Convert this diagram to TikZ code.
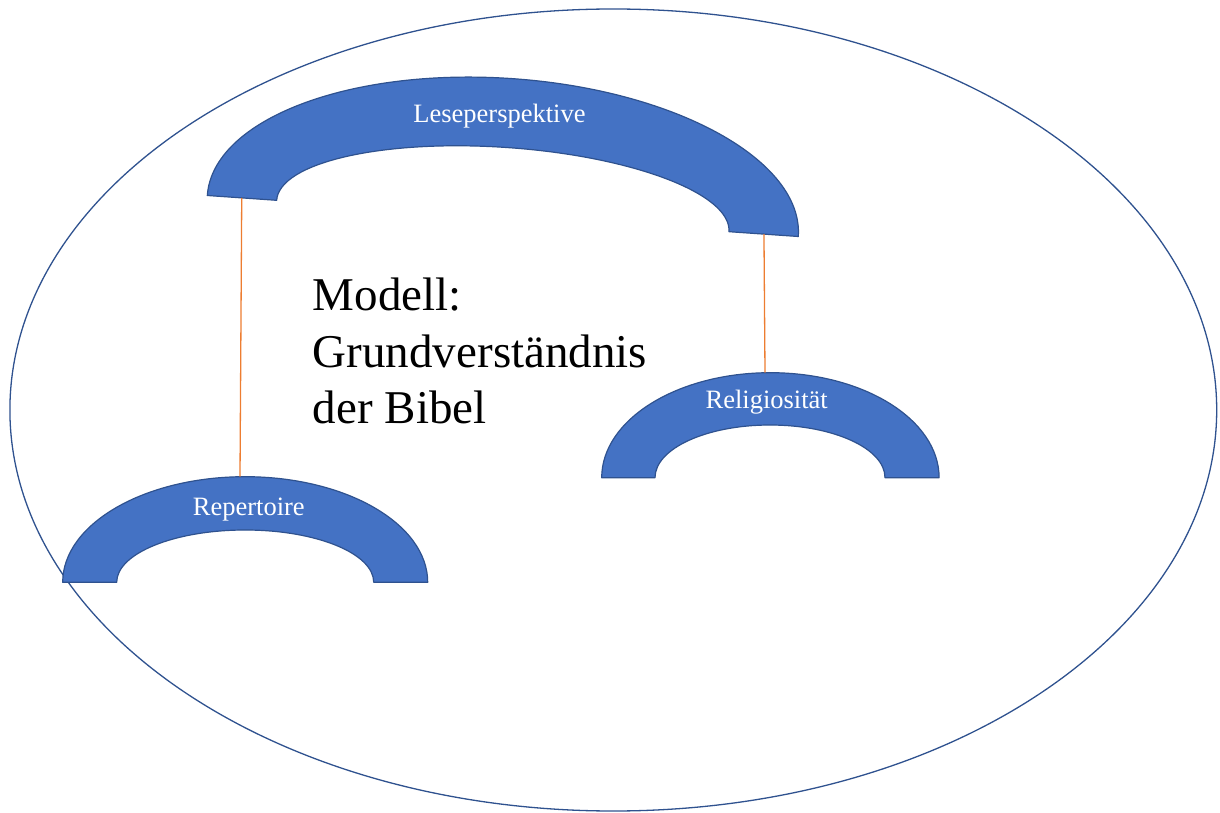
\documentclass[tikz,border=0pt]{standalone}
\usepackage{fontspec}
\setmainfont{Liberation Serif}
\definecolor{arcfill}{HTML}{4472C4}
\definecolor{arcline}{HTML}{2F528F}
\definecolor{conncol}{HTML}{ED7D31}
\tikzset{
  arcbox/.style={fill=arcfill, draw=arcline, line width=1.2pt, line join=round},
  arclabel/.style={text=white, font=\fontsize{26.5}{30}\selectfont, inner sep=0pt, anchor=base},
  conn/.style={draw=conncol, line width=1.3pt},
  frame/.style={draw=arcline, line width=1.3pt}
}
\begin{document}
\begin{tikzpicture}[x=1pt,y=1pt]
\useasboundingbox (0,0) rectangle (1220,812);
% outer ellipse
\draw[frame] (613.3,402) ellipse [x radius=603.4pt, y radius=401pt];

% Leseperspektive (rotated block arc)
\begin{scope}[shift={(502.8,596)}, rotate=-3.97]
  \draw[arcbox] (-296.2,0) arc[start angle=180, end angle=0, x radius=296.2pt, y radius=137.7pt]
    -- (226.7,0) arc[start angle=0, end angle=180, x radius=226.7pt, y radius=68.6pt] -- cycle;
  \coordinate (lese-l) at (-261.7,0);
  \coordinate (lese-r) at (261.8,0);
\end{scope}
\node[arclabel] (lese) at (499.5,689.3) {Leseperspektive};

% Religiositaet
\draw[arcbox] (601.7,334.3) arc[start angle=180, end angle=0, x radius=168.7pt, y radius=105pt]
  -- (885,334.3) arc[start angle=0, end angle=180, x radius=115pt, y radius=52.7pt] -- cycle;
\coordinate (reli-top) at (765,439.3);
\node[arclabel] (reli) at (766.7,403.7) {Religiosität};

% Repertoire
\draw[arcbox] (62.7,229.7) arc[start angle=180, end angle=0, x radius=182.5pt, y radius=105.6pt]
  -- (373.7,229.7) arc[start angle=0, end angle=180, x radius=128.5pt, y radius=52.3pt] -- cycle;
\coordinate (rep-top) at (240,335.3);
\node[arclabel] (rep) at (248.8,297) {Repertoire};

% connectors
\draw[conn] (lese-l) -- (rep-top);
\draw[conn] (lese-r) -- (reli-top);

% title
\node[anchor=north west, inner sep=0pt, align=left, font=\fontsize{47}{56.5}\selectfont] (title) at (312.7,534.1) {Modell:\\Grundverständnis\\der Bibel};
\end{tikzpicture}
\end{document}
